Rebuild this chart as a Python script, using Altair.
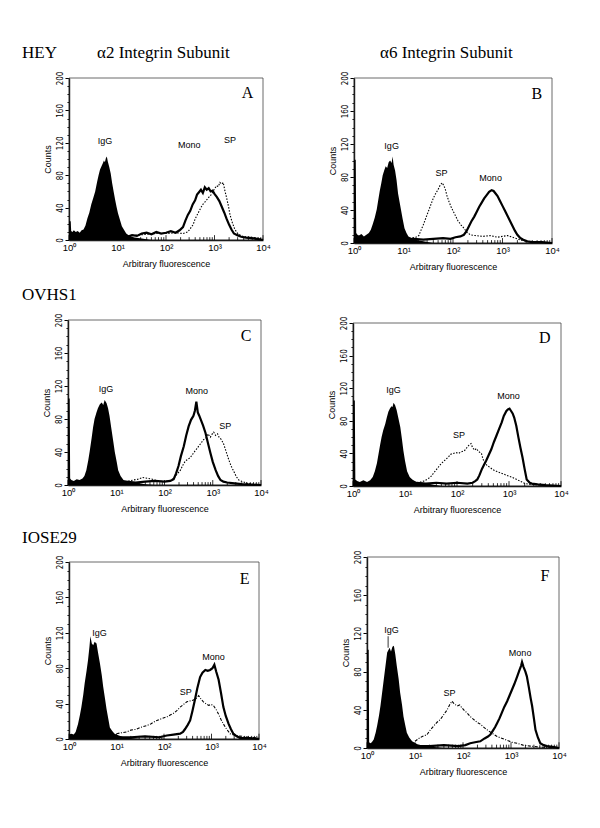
import altair as alt
import pandas as pd

FONT_SANS = "Liberation Sans"
FONT_SERIF = "Liberation Serif"
FONT_NARROW = "'Liberation Sans Narrow', 'DejaVu Sans Condensed', 'Liberation Sans', sans-serif"

# ---------------- axis values ----------------
x_major = [1, 10, 100, 1000, 10000]
x_major_labels = ["10⁰", "10¹", "10²", "10³", "10⁴"]
x_minor = [2, 3, 4, 5, 6, 7, 8, 9, 20, 30, 40, 50, 60, 70, 80, 90,
           200, 300, 400, 500, 600, 700, 800, 900,
           2000, 3000, 4000, 5000, 6000, 7000, 8000, 9000]
x_major_len = 6
x_minor_len = 3.5
y_major = [0, 40, 80, 120, 160, 200]
y_minor = [0, 10, 20, 30, 40, 50, 60, 70, 80, 90, 100, 110, 120, 130, 140, 150,
           160, 170, 180, 190, 200]

label_names = ["IgG", "Mono", "SP"]

# ---------------- Panel A (HEY, alpha2) ----------------
A_igg_lx = [0.00, 0.035, 0.045, 0.07, 0.10, 0.14, 0.18, 0.22, 0.26, 0.30, 0.34, 0.38, 0.42, 0.46, 0.50,
            0.54, 0.58, 0.61, 0.64, 0.67, 0.70, 0.72, 0.74, 0.76, 0.78, 0.80, 0.83, 0.86, 0.89, 0.92,
            0.95, 0.98, 1.01, 1.05, 1.09, 1.13, 1.18, 1.25, 1.35, 1.50, 1.70]
A_igg_ct = [23, 23, 11, 10, 12, 10, 11, 9, 12, 13, 18, 27, 34, 44, 52,
            60, 72, 80, 87, 91, 95, 98, 96, 101, 103, 97, 90, 82, 70, 60,
            50, 41, 33, 25, 17, 13, 8, 5, 3, 2, 0]
A_mono_lx = [1.00, 1.10, 1.20, 1.30, 1.40, 1.50, 1.60, 1.70, 1.80, 1.90, 2.00, 2.10, 2.20, 2.28, 2.35,
             2.40, 2.45, 2.50, 2.55, 2.60, 2.64, 2.68, 2.72, 2.76, 2.80, 2.84, 2.88, 2.92, 2.96, 3.00,
             3.05, 3.10, 3.15, 3.20, 3.25, 3.30, 3.35, 3.40, 3.47, 3.55, 3.65, 3.80, 3.90, 4.00]
A_mono_ct = [4, 5, 4, 6, 5, 8, 9, 7, 10, 8, 9, 11, 9, 12, 16,
             24, 31, 36, 44, 49, 56, 59, 62, 58, 65, 62, 64, 60, 61, 57,
             53, 48, 41, 34, 26, 19, 13, 8, 6, 4, 3, 2, 1, 0]
A_sp_lx = [1.00, 1.20, 1.40, 1.60, 1.80, 2.00, 2.20, 2.35, 2.45, 2.50, 2.56, 2.60, 2.66, 2.72, 2.76,
           2.82, 2.87, 2.92, 2.97, 3.00, 3.04, 3.08, 3.11, 3.15, 3.18, 3.21, 3.25, 3.29, 3.32, 3.37,
           3.42, 3.48, 3.53, 3.60, 3.70, 3.80, 3.90, 4.00]
A_sp_ct = [3, 5, 6, 7, 8, 8, 9, 8, 10, 14, 19, 26, 33, 40, 44,
           48, 52, 55, 60, 63, 67, 66, 71, 69, 71, 62, 52, 41, 31, 21,
           13, 8, 6, 4, 4, 3, 2, 1]
A_label_lx = [0.74, 2.48, 3.32]
A_label_ct = [122, 117, 123]

# ---------------- Panel B (HEY, alpha6) ----------------
B_igg_lx = [0.00, 0.035, 0.045, 0.07, 0.10, 0.15, 0.20, 0.25, 0.30, 0.34, 0.38, 0.42, 0.46, 0.49, 0.52,
            0.55, 0.58, 0.61, 0.64, 0.67, 0.70, 0.73, 0.76, 0.78, 0.80, 0.83, 0.86, 0.89, 0.92, 0.95,
            0.98, 1.02, 1.06, 1.10, 1.16, 1.25, 1.40, 1.60]
B_igg_ct = [101, 101, 12, 10, 9, 11, 8, 10, 12, 16, 23, 31, 41, 52, 63,
            72, 82, 88, 93, 91, 98, 100, 97, 105, 95, 88, 76, 60, 50, 40,
            30, 18, 12, 8, 6, 4, 2, 0]
B_sp_lx = [1.00, 1.15, 1.25, 1.31, 1.35, 1.40, 1.45, 1.50, 1.55, 1.60, 1.65, 1.70, 1.74, 1.78, 1.81,
           1.84, 1.88, 1.92, 1.96, 2.00, 2.05, 2.10, 2.16, 2.22, 2.28, 2.35, 2.45, 2.60, 2.75, 2.90,
           3.00, 3.10, 3.20, 3.30, 3.40, 3.50, 3.70, 4.00]
B_sp_ct = [5, 6, 7, 9, 15, 22, 30, 38, 46, 54, 60, 65, 70, 73, 70,
           66, 57, 50, 44, 39, 33, 27, 22, 18, 13, 10, 9, 8, 9, 7,
           8, 9, 7, 5, 3, 2, 1, 0]
B_mono_lx = [1.00, 1.20, 1.40, 1.60, 1.80, 1.95, 2.05, 2.15, 2.22, 2.27, 2.32, 2.37, 2.43, 2.48, 2.53,
             2.58, 2.63, 2.68, 2.73, 2.78, 2.82, 2.86, 2.90, 2.95, 3.00, 3.05, 3.10, 3.15, 3.20, 3.25,
             3.30, 3.36, 3.42, 3.50, 3.60, 3.80, 4.00]
B_mono_ct = [4, 5, 4, 5, 6, 5, 7, 8, 10, 14, 20, 26, 32, 38, 44,
             49, 54, 58, 62, 64, 63, 60, 57, 51, 45, 39, 33, 27, 21, 15,
             10, 6, 4, 2, 1, 1, 0]
B_label_lx = [0.76, 2.76, 1.77]
B_label_ct = [118, 79, 85]

# ---------------- Panel C (OVHS1, alpha2) ----------------
C_igg_lx = [0.00, 0.035, 0.045, 0.07, 0.12, 0.18, 0.24, 0.30, 0.34, 0.38, 0.42, 0.45, 0.49, 0.52, 0.55,
            0.59, 0.62, 0.66, 0.70, 0.73, 0.76, 0.80, 0.83, 0.86, 0.90, 0.94, 0.97, 1.01, 1.04, 1.09,
            1.15, 1.25, 1.40, 1.60, 1.80]
C_igg_ct = [105, 105, 8, 6, 5, 7, 6, 8, 11, 18, 30, 41, 57, 70, 80,
            88, 93, 98, 100, 97, 103, 99, 93, 84, 68, 52, 40, 28, 18, 11,
            6, 4, 3, 1, 0]
C_sp_lx = [1.00, 1.20, 1.35, 1.45, 1.55, 1.65, 1.75, 1.85, 2.00, 2.10, 2.19, 2.26, 2.33, 2.38, 2.43,
           2.48, 2.53, 2.58, 2.63, 2.67, 2.72, 2.76, 2.81, 2.86, 2.90, 2.95, 2.99, 3.02, 3.06, 3.10,
           3.13, 3.18, 3.23, 3.28, 3.33, 3.38, 3.44, 3.49, 3.54, 3.62, 3.72, 3.85, 4.00]
C_sp_ct = [3, 4, 6, 7, 9, 8, 7, 5, 4, 5, 8, 13, 18, 24, 29,
           31, 33, 37, 41, 44, 48, 51, 55, 57, 62, 58, 62, 64, 60, 62,
           58, 55, 49, 40, 31, 23, 16, 10, 6, 4, 2, 1, 0]
C_mono_lx = [1.00, 1.20, 1.40, 1.60, 1.80, 2.00, 2.12, 2.19, 2.24, 2.29, 2.34, 2.40, 2.45, 2.50, 2.55,
             2.60, 2.63, 2.66, 2.69, 2.72, 2.76, 2.80, 2.85, 2.90, 2.95, 3.00, 3.06, 3.11, 3.16, 3.22,
             3.30, 3.45, 3.60, 4.00]
C_mono_ct = [3, 4, 3, 4, 5, 4, 5, 7, 14, 23, 35, 47, 60, 71, 79,
             84, 90, 101, 88, 84, 78, 72, 63, 51, 39, 28, 18, 11, 6, 4,
             3, 2, 1, 0]
C_label_lx = [0.79, 2.67, 3.26]
C_label_ct = [116, 114, 72]

# ---------------- Panel D (OVHS1, alpha6) ----------------
D_igg_lx = [0.00, 0.035, 0.045, 0.08, 0.13, 0.20, 0.27, 0.33, 0.38, 0.42, 0.46, 0.49, 0.52, 0.55, 0.58,
            0.62, 0.65, 0.68, 0.71, 0.74, 0.76, 0.78, 0.81, 0.84, 0.87, 0.91, 0.94, 0.97, 1.00, 1.04,
            1.09, 1.14, 1.22, 1.35, 1.50, 1.70]
D_igg_ct = [105, 105, 8, 6, 5, 7, 5, 7, 11, 18, 28, 39, 50, 60, 68,
            76, 84, 91, 95, 98, 97, 102, 99, 93, 84, 72, 58, 43, 31, 18,
            11, 8, 5, 4, 2, 0]
D_sp_lx = [1.00, 1.20, 1.30, 1.36, 1.42, 1.49, 1.54, 1.59, 1.64, 1.69, 1.74, 1.79, 1.84, 1.88, 1.93,
           1.98, 2.03, 2.08, 2.14, 2.19, 2.23, 2.27, 2.30, 2.34, 2.37, 2.42, 2.47, 2.50, 2.53, 2.58,
           2.63, 2.69, 2.76, 2.84, 2.92, 3.00, 3.05, 3.12, 3.18, 3.25, 3.31, 3.40, 3.60, 4.00]
D_sp_ct = [3, 4, 5, 6, 8, 11, 15, 19, 23, 27, 30, 33, 36, 39, 40,
           41, 40, 42, 43, 47, 50, 52, 47, 44, 46, 42, 40, 33, 29, 25,
           23, 20, 18, 16, 14, 12, 11, 9, 7, 5, 3, 2, 1, 0]
D_mono_lx = [1.00, 1.20, 1.40, 1.60, 1.80, 2.00, 2.20, 2.30, 2.35, 2.39, 2.43, 2.48, 2.52, 2.56, 2.61,
             2.66, 2.71, 2.76, 2.81, 2.86, 2.90, 2.95, 2.98, 3.01, 3.04, 3.07, 3.10, 3.14, 3.18, 3.22,
             3.26, 3.30, 3.34, 3.40, 3.44, 3.55, 3.70, 4.00]
D_mono_ct = [3, 4, 3, 4, 3, 4, 3, 4, 6, 8, 13, 21, 26, 31, 38,
             45, 54, 62, 70, 78, 86, 92, 94, 95, 92, 89, 84, 74, 60, 47,
             35, 21, 8, 4, 3, 2, 1, 0]
D_label_lx = [0.78, 2.99, 2.04]
D_label_ct = [118, 110, 62]

# ---------------- Panel E (IOSE29, alpha2) ----------------
E_igg_lx = [0.00, 0.05, 0.10, 0.14, 0.19, 0.23, 0.26, 0.30, 0.33, 0.37, 0.40, 0.43, 0.45, 0.48, 0.51,
            0.54, 0.58, 0.61, 0.65, 0.69, 0.72, 0.76, 0.79, 0.83, 0.86, 0.91, 0.96, 1.05, 1.15, 1.30,
            1.50]
E_igg_ct = [5, 6, 5, 8, 17, 27, 36, 50, 63, 77, 89, 104, 116, 108, 106,
            110, 108, 98, 86, 72, 59, 45, 34, 22, 13, 9, 6, 4, 2, 1,
            0]
E_sp_lx = [1.00, 1.10, 1.21, 1.30, 1.42, 1.50, 1.63, 1.72, 1.85, 1.95, 2.06, 2.13, 2.20, 2.27, 2.34,
           2.41, 2.48, 2.55, 2.62, 2.68, 2.73, 2.78, 2.83, 2.88, 2.94, 2.99, 3.04, 3.10, 3.15, 3.20,
           3.25, 3.32, 3.39, 3.50, 3.65, 3.80, 4.00]
E_sp_ct = [6, 7, 8, 10, 11, 13, 15, 17, 21, 23, 25, 27, 29, 32, 36,
           39, 42, 43, 44, 46, 49, 45, 42, 40, 38, 39, 38, 33, 28, 22,
           17, 11, 6, 4, 3, 2, 1]
E_mono_lx = [1.00, 1.30, 1.60, 1.90, 2.06, 2.20, 2.34, 2.40, 2.44, 2.50, 2.55, 2.60, 2.65, 2.70, 2.76,
             2.81, 2.87, 2.92, 2.97, 3.02, 3.06, 3.10, 3.15, 3.20, 3.25, 3.30, 3.36, 3.41, 3.46, 3.53,
             3.61, 3.80, 4.00]
E_mono_ct = [2, 2, 3, 2, 4, 5, 6, 8, 11, 16, 21, 32, 44, 57, 70,
             75, 78, 77, 78, 80, 84, 76, 67, 52, 36, 26, 17, 11, 6, 3,
             1, 1, 0]
E_label_lx = [0.64, 3.04, 2.46]
E_label_ct = [120, 93, 53]

# ---------------- Panel F (IOSE29, alpha6) ----------------
F_igg_lx = [0.00, 0.035, 0.045, 0.07, 0.10, 0.14, 0.18, 0.21, 0.25, 0.28, 0.32, 0.35, 0.39, 0.42, 0.45,
            0.47, 0.50, 0.53, 0.56, 0.59, 0.62, 0.66, 0.69, 0.73, 0.76, 0.80, 0.83, 0.88, 0.94, 1.05,
            1.20, 1.40, 1.60]
F_igg_ct = [103, 103, 6, 5, 6, 9, 16, 23, 34, 44, 60, 72, 88, 100, 103,
            105, 101, 106, 107, 98, 86, 72, 58, 45, 33, 23, 16, 11, 7, 4,
            2, 1, 0]
F_sp_lx = [1.00, 1.08, 1.15, 1.25, 1.32, 1.39, 1.46, 1.53, 1.60, 1.67, 1.72, 1.77, 1.82, 1.88, 1.93,
           1.98, 2.03, 2.08, 2.15, 2.22, 2.29, 2.36, 2.45, 2.53, 2.62, 2.71, 2.82, 2.92, 3.02, 3.13,
           3.25, 3.40, 3.60, 4.00]
F_sp_ct = [7, 10, 12, 14, 19, 23, 27, 30, 35, 40, 45, 49, 46, 44, 45,
           42, 39, 37, 33, 30, 27, 25, 21, 18, 15, 12, 10, 8, 6, 5,
           3, 2, 1, 0]
F_mono_lx = [1.00, 1.30, 1.60, 1.90, 2.05, 2.15, 2.25, 2.36, 2.45, 2.52, 2.57, 2.62, 2.67, 2.71, 2.76,
             2.81, 2.86, 2.92, 2.97, 3.02, 3.07, 3.13, 3.18, 3.21, 3.23, 3.26, 3.30, 3.33, 3.37, 3.41,
             3.44, 3.48, 3.51, 3.56, 3.61, 3.68, 3.75, 3.90, 4.00]
F_mono_ct = [2, 2, 3, 2, 3, 5, 6, 7, 10, 12, 14, 18, 22, 26, 31,
             37, 43, 49, 55, 61, 67, 75, 82, 86, 90, 85, 80, 75, 64, 52,
             44, 30, 19, 11, 5, 3, 2, 1, 0]
F_label_lx = [0.51, 3.19, 1.72]
F_label_ct = [124, 99, 58]
F_pointer_lx = [0.44, 0.44]
F_pointer_ct = [105, 117]

# ---------------- layout (cell width, cell height, x range, y range) ----------------
geometry = {
    "A": (195, 169, [1, 195], [162, 0]),
    "B": (208, 169, [1, 199], [165, 0]),
    "C": (195, 168, [0, 193], [167, 2]),
    "D": (208, 168, [0, 208], [168, 5]),
    "E": (195, 192, [1, 191], [182, 5]),
    "F": (208, 192, [14, 206], [191, 0]),
}

# header texts: (panel, text, dx, dy) relative to the panel cell
headers = [
    ("A", "HEY", -46, -20),
    ("A", "α2 Integrin Subunit", 29, -20),
    ("B", "α6 Integrin Subunit", 27, -20),
    ("C", "OVHS1", -46, -18),
    ("E", "IOSE29", -46, -14),
]

letter_lx = 3.8
letter_ct = 175

label_expr = " : ".join(
    f"datum.value == {v} ? '{t}'" for v, t in zip(x_major, x_major_labels)
) + " : ''"


def to_lin(lx):
    return [10 ** v for v in lx]


def make_panel(key, igg, sp, mono, labels, sp_dash, pointer=None):
    W, H, xr, yr = geometry[key]
    xs = alt.Scale(type="log", domain=[1, 10000], range=xr, nice=False)
    ys = alt.Scale(domain=[0, 200], range=yr, nice=False)

    x_axis = alt.Axis(values=x_major, labelExpr=label_expr, ticks=False, tickSize=0,
                      labelPadding=2, domainWidth=1.4, title="Arbitrary fluorescence",
                      titlePadding=8, titleFontSize=9, titleFont=FONT_SANS,
                      labelFont=FONT_SANS, labelFontSize=9.5, orient="bottom",
                      offset=yr[0] - H, grid=False, labelFlush=False, labelOverlap=False)
    y_axis = alt.Axis(values=y_major, labelAngle=270, labelAlign="center",
                      labelBaseline="bottom", tickSize=4, labelPadding=1,
                      domainWidth=1.4, title="Counts", titlePadding=4,
                      titleFontSize=9, titleFont=FONT_SANS, labelFont=FONT_NARROW,
                      labelFontSize=8, orient="left", offset=-xr[0], grid=False,
                      labelFlush=False, labelOverlap=False)
    y_minor_axis = alt.Axis(values=y_minor, labels=False, tickSize=2, domain=False,
                            title=None, orient="left", offset=-xr[0], grid=False)

    frame_df = pd.DataFrame({"x0": [1], "x1": [10000], "y0": [0], "y1": [200]})
    frame = alt.Chart(frame_df).mark_rect(fillOpacity=0, stroke="#444", strokeWidth=0.8).encode(
        x=alt.X("x0:Q", scale=xs, axis=x_axis), x2="x1:Q",
        y=alt.Y("y0:Q", scale=ys, axis=y_axis), y2="y1:Q")

    igg_df = pd.DataFrame({"x": to_lin(igg[0]), "c": igg[1]})
    igg_layer = alt.Chart(igg_df).mark_area(color="black", interpolate="linear").encode(
        x=alt.X("x:Q", scale=xs, axis=None), y=alt.Y("c:Q", scale=ys, axis=None))

    sp_df = pd.DataFrame({"x": to_lin(sp[0]), "c": sp[1]})
    sp_layer = alt.Chart(sp_df).mark_line(color="black", strokeWidth=1.1,
                                          strokeDash=sp_dash).encode(
        x=alt.X("x:Q", scale=xs, axis=None), y=alt.Y("c:Q", scale=ys, axis=None))

    mono_df = pd.DataFrame({"x": to_lin(mono[0]), "c": mono[1]})
    mono_layer = alt.Chart(mono_df).mark_line(color="black", strokeWidth=2.2).encode(
        x=alt.X("x:Q", scale=xs, axis=None), y=alt.Y("c:Q", scale=ys, axis=None))

    tick_df = pd.DataFrame({
        "x": x_major + x_minor,
        "y0": [0] * (len(x_major) + len(x_minor)),
        "y1": [x_major_len] * len(x_major) + [x_minor_len] * len(x_minor),
    })
    tick_layer = alt.Chart(tick_df).mark_rule(color="black", strokeWidth=0.8).encode(
        x=alt.X("x:Q", scale=xs, axis=None),
        y=alt.Y("y0:Q", scale=ys, axis=y_minor_axis), y2="y1:Q")

    lab_df = pd.DataFrame({"t": label_names, "x": to_lin(labels[0]), "c": labels[1]})
    lab_layer = alt.Chart(lab_df).mark_text(font=FONT_SANS, fontSize=9,
                                            baseline="middle", color="black").encode(
        x=alt.X("x:Q", scale=xs, axis=None), y=alt.Y("c:Q", scale=ys, axis=None), text="t:N")

    let_df = pd.DataFrame({"t": [key], "x": [10 ** letter_lx], "c": [letter_ct]})
    let_layer = alt.Chart(let_df).mark_text(font=FONT_SERIF, fontSize=16, align="right",
                                            baseline="alphabetic", color="black").encode(
        x=alt.X("x:Q", scale=xs, axis=None), y=alt.Y("c:Q", scale=ys, axis=None), text="t:N")

    layers = [frame, igg_layer, sp_layer, mono_layer, tick_layer, lab_layer, let_layer]

    if pointer is not None:
        p_df = pd.DataFrame({"x": to_lin(pointer[0])[:1], "c0": [pointer[1][0]], "c1": [pointer[1][1]]})
        layers.append(alt.Chart(p_df).mark_rule(color="black", strokeWidth=0.8).encode(
            x=alt.X("x:Q", scale=xs, axis=None), y=alt.Y("c0:Q", scale=ys, axis=None), y2="c1:Q"))

    for pk, txt, dx, dy in headers:
        if pk == key:
            h_df = pd.DataFrame({"t": [txt]})
            layers.append(alt.Chart(h_df).mark_text(font=FONT_SERIF, fontSize=17, align="left",
                                                    baseline="alphabetic", color="black").encode(
                x=alt.value(dx), y=alt.value(dy), text="t:N"))

    return alt.layer(*layers).resolve_axis(x="independent", y="independent").properties(
        width=W, height=H)


dot = [1.5, 1.5]
dashdot = [3, 1.5, 1, 1.5]

pA = make_panel("A", (A_igg_lx, A_igg_ct), (A_sp_lx, A_sp_ct), (A_mono_lx, A_mono_ct),
                (A_label_lx, A_label_ct), dot)
pB = make_panel("B", (B_igg_lx, B_igg_ct), (B_sp_lx, B_sp_ct), (B_mono_lx, B_mono_ct),
                (B_label_lx, B_label_ct), dot)
pC = make_panel("C", (C_igg_lx, C_igg_ct), (C_sp_lx, C_sp_ct), (C_mono_lx, C_mono_ct),
                (C_label_lx, C_label_ct), dot)
pD = make_panel("D", (D_igg_lx, D_igg_ct), (D_sp_lx, D_sp_ct), (D_mono_lx, D_mono_ct),
                (D_label_lx, D_label_ct), dot)
pE = make_panel("E", (E_igg_lx, E_igg_ct), (E_sp_lx, E_sp_ct), (E_mono_lx, E_mono_ct),
                (E_label_lx, E_label_ct), dashdot)
pF = make_panel("F", (F_igg_lx, F_igg_ct), (F_sp_lx, F_sp_ct), (F_mono_lx, F_mono_ct),
                (F_label_lx, F_label_ct), dashdot, pointer=(F_pointer_lx, F_pointer_ct))

chart = alt.concat(pA, pB, pC, pD, pE, pF, columns=2, spacing={"row": 71, "column": 90},
                   bounds="flush", align="each").properties(
    padding={"left": 14, "top": 36, "right": 0, "bottom": 0},
    background="white",
).configure_view(strokeWidth=0).configure_axis(
    domainColor="black", tickColor="black", labelColor="black", titleColor="black",
    titleFontWeight="normal")

chart.save("out.html", embed_options={"renderer": "svg", "actions": False})
